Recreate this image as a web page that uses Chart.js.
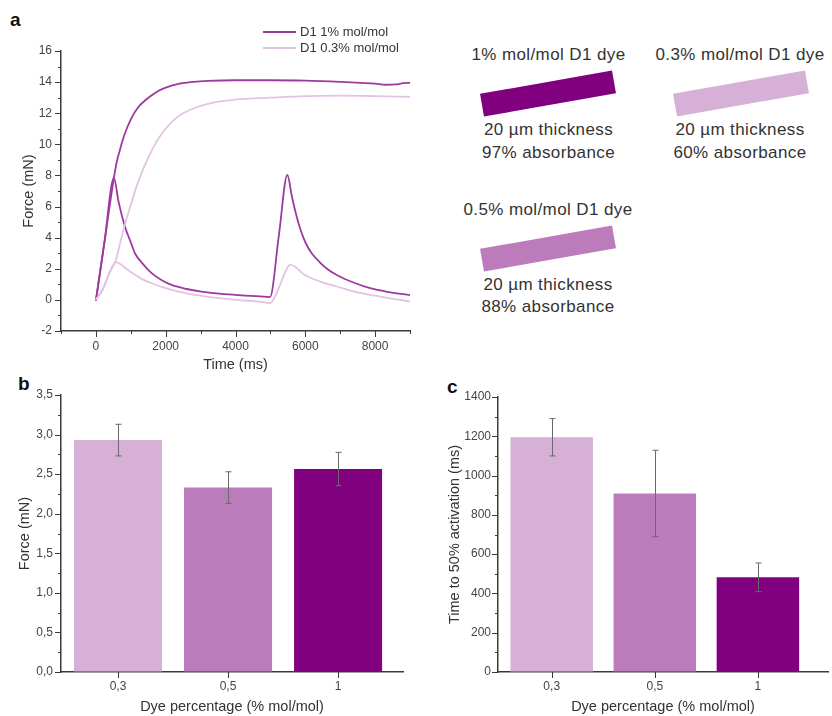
<!DOCTYPE html>
<html><head><meta charset="utf-8">
<script src="https://cdn.jsdelivr.net/npm/chart.js@4.4.1/dist/chart.umd.min.js"></script>
<style>
html,body{margin:0;padding:0;background:#fff;}
body{width:832px;height:716px;position:relative;overflow:hidden;font-family:"Liberation Sans",Arial,sans-serif;color:#333;}
canvas{position:absolute;}
.lbl{position:absolute;font-weight:bold;font-size:19px;line-height:1;color:#111;}
.ann{position:absolute;width:220px;text-align:center;font-size:17px;line-height:20px;color:#333;letter-spacing:0.4px;white-space:nowrap;}
.film{position:absolute;width:134px;height:23px;transform:rotate(-10deg);}
#legendA{position:absolute;left:263px;top:0;width:170px;height:60px;}
.li{position:absolute;left:0;white-space:nowrap;font-size:13px;line-height:16px;height:16px;width:170px;}
.li .sw{position:absolute;left:0;top:7px;width:33px;height:2px;}
.li .tx{position:absolute;left:37px;top:0;color:#333;}
</style></head><body>
<div class="lbl" style="left:10px;top:10px;">a</div>
<div class="lbl" style="left:18px;top:374px;">b</div>
<div class="lbl" style="left:447px;top:377px;">c</div>

<canvas id="chartA" width="430" height="380" style="left:0;top:0;"></canvas>
<div id="legendA"></div>
<canvas id="chartB" width="420" height="346" style="left:0;top:370px;"></canvas>
<canvas id="chartC" width="412" height="346" style="left:420px;top:370px;"></canvas>

<div id="films"></div>

<script>
// ---------- Panel a data (Force vs time) ----------
const legendLabels = ['D1 1% mol/mol', 'D1 0.3% mol/mol'];

const t_1pct_cont = [0, 250, 516, 600, 688, 800, 1000, 1200, 1400, 1600, 1800, 2000, 2400, 2800, 3200, 4000, 5000, 6000, 7000, 7600, 8000, 8300, 8600, 8800, 9000];
const f_1pct_cont = [-0.05, 3.8, 7.85, 8.9, 9.64, 10.5, 11.6, 12.35, 12.8, 13.15, 13.45, 13.65, 13.9, 14.02, 14.08, 14.12, 14.12, 14.1, 14.02, 13.95, 13.9, 13.83, 13.85, 13.93, 13.95];

const t_1pct_pulse = [0, 250, 516, 650, 832, 1000, 1118, 1350, 1597, 1900, 2170, 2600, 3030, 3600, 4270, 4700, 4989, 5240, 5486, 5620, 5754, 5850, 5945, 6070, 6200, 6423, 6650, 6900, 7400, 7857, 8400, 9000];
const f_1pct_pulse = [-0.05, 3.8, 7.85, 6.3, 4.71, 3.7, 3.0, 2.3, 1.72, 1.25, 0.96, 0.7, 0.53, 0.38, 0.28, 0.22, 0.18, 4.1, 8.03, 6.6, 5.35, 4.6, 4.0, 3.4, 2.95, 2.4, 1.95, 1.6, 1.1, 0.75, 0.5, 0.3];

const t_03pct_cont = [0, 200, 400, 565, 700, 850, 1000, 1150, 1300, 1450, 1600, 1800, 2000, 2250, 2500, 2900, 3400, 4000, 5000, 6000, 7000, 8000, 9000];
const f_03pct_cont = [0, 0.7, 1.8, 2.5, 3.7, 5.0, 6.1, 7.2, 8.1, 8.9, 9.6, 10.4, 11.0, 11.6, 12.0, 12.4, 12.7, 12.88, 13.0, 13.1, 13.13, 13.1, 13.05];

const t_03pct_pulse = [0, 200, 400, 565, 700, 900, 1118, 1350, 1597, 2000, 2552, 3000, 3508, 4272, 4700, 5000, 5150, 5300, 5450, 5562, 5700, 5945, 6423, 6900, 7378, 7857, 8400, 8813, 9000];
const f_03pct_pulse = [0, 0.7, 1.8, 2.45, 2.3, 1.95, 1.61, 1.3, 1.07, 0.75, 0.43, 0.27, 0.11, -0.04, -0.12, -0.2, 0.3, 1.1, 1.9, 2.25, 2.15, 1.67, 1.18, 0.86, 0.54, 0.32, 0.12, -0.04, -0.1];

// ---------- Panels b and c data ----------
const dyeCats = ['0,3', '0,5', '1'];
const forceVals = [2.93, 2.33, 2.565];
const forceErr = [0.2, 0.2, 0.21];
const t50Vals = [1195, 909, 482];
const t50Err = [95, 220, 73];

// ---------- Film annotations ----------
const filmTitles = ['1% mol/mol D1 dye', '0.3% mol/mol D1 dye', '0.5% mol/mol D1 dye'];
const filmThick = ['20 µm thickness', '20 µm thickness', '20 µm thickness'];
const filmAbs = ['97% absorbance', '60% absorbance', '88% absorbance'];

// ---------- styles ----------
const FONT = '"Liberation Sans", Arial, sans-serif';
const darkLine = '#9c3aa0';
const lightLine = '#e3c3e3';
const barColors = ['#d6b0d6', '#bc7cbc', '#800080'];
const filmColors = ['#800080', '#d6b0d6', '#bc7cbc'];
const filmPos = [{cx:548, cy:93.5, tx:548.5, ty:55, t1:130, t2:153},
                 {cx:741, cy:93.5, tx:740, ty:55, t1:130, t2:153},
                 {cx:548, cy:248, tx:548, ty:210, t1:285, t2:307}];

// films / annotations
(function(){
  const host = document.getElementById('films');
  filmTitles.forEach((t, i) => {
    const p = filmPos[i];
    const mk = (txt, y) => { const d = document.createElement('div'); d.className='ann'; d.textContent=txt; d.style.left=(p.tx-110)+'px'; d.style.top=(y-10)+'px'; host.appendChild(d); };
    mk(t, p.ty); mk(filmThick[i], p.t1); mk(filmAbs[i], p.t2);
    const r = document.createElement('div'); r.className='film'; r.style.background=filmColors[i];
    r.style.left=(p.cx-67)+'px'; r.style.top=(p.cy-11.5)+'px'; host.appendChild(r);
  });
})();

// ---------- plugins ----------
const tickMarks = {
  id: 'tickMarks',
  afterDraw(chart, args, opts) {
    const ctx = chart.ctx; ctx.save();
    ctx.strokeStyle = '#3a3a3a'; ctx.lineWidth = 1;
    ['x','y'].forEach(id => {
      const s = chart.scales[id];
      s.ticks.forEach((tk, i) => {
        const lab = tk.label;
        const major = lab !== '' && lab != null;
        const len = major ? opts.major : opts.minor;
        const p = s.getPixelForTick(i);
        ctx.beginPath();
        if (s.isHorizontal()) { const x = Math.round(p) + 0.5; ctx.moveTo(x, s.top); ctx.lineTo(x, s.top + len); }
        else { const y = Math.round(p) + 0.5; ctx.moveTo(s.right, y); ctx.lineTo(s.right - len, y); }
        ctx.stroke();
      });
    });
    ctx.restore();
  }
};
const errBars = {
  id: 'errBars',
  afterDatasetsDraw(chart, args, opts) {
    if (!opts || !opts.errors) return;
    const meta = chart.getDatasetMeta(0), ys = chart.scales.y, ctx = chart.ctx;
    ctx.save(); ctx.strokeStyle = opts.color; ctx.lineWidth = 1;
    meta.data.forEach((bar, i) => {
      const v = chart.data.datasets[0].data[i].y, e = opts.errors[i];
      const x = Math.round(bar.x) + 0.5;
      const y1 = ys.getPixelForValue(v + e), y2 = ys.getPixelForValue(v - e);
      ctx.beginPath();
      ctx.moveTo(x, y1); ctx.lineTo(x, y2);
      ctx.moveTo(x - 3, y1); ctx.lineTo(x + 3, y1);
      ctx.moveTo(x - 3, y2); ctx.lineTo(x + 3, y2);
      ctx.stroke();
    });
    ctx.restore();
  }
};

function pts(t, f) { return t.map((v, i) => ({x: v, y: f[i]})); }
const tickFont = {family: FONT, size: 12};
const titleFont = {family: FONT, size: 14.5};
const gridOpts = {drawOnChartArea:false, color:'transparent', tickLength:6};
const borderOpts = {display:true, color:'#3a3a3a', width:1.5};

// ---------- Chart a ----------
const chartA = new Chart(document.getElementById('chartA'), {
  type: 'line',
  data: { datasets: [
    {label: legendLabels[1], data: pts(t_03pct_cont, f_03pct_cont), borderColor: lightLine, borderWidth: 1.8},
    {label: legendLabels[1], data: pts(t_03pct_pulse, f_03pct_pulse), borderColor: lightLine, borderWidth: 1.8},
    {label: legendLabels[0], data: pts(t_1pct_cont, f_1pct_cont), borderColor: darkLine, borderWidth: 1.8},
    {label: legendLabels[0], data: pts(t_1pct_pulse, f_1pct_pulse), borderColor: darkLine, borderWidth: 1.8}
  ]},
  options: {
    responsive:false, animation:false, devicePixelRatio:1,
    layout:{padding:{top:51, right:20, left:0, bottom:0}},
    elements:{point:{radius:0}, line:{cubicInterpolationMode:'monotone'}},
    plugins:{legend:{display:false}, tooltip:{enabled:false}, tickMarks:{major:6, minor:3}},
    scales:{
      x:{type:'linear', min:-1000, max:9000, afterFit:s=>{s.height=49;},
         ticks:{stepSize:1000, autoSkip:false, maxRotation:0, padding:2, color:'#444', font:tickFont,
                callback:v=> (v>=0 && v%2000===0) ? String(v) : ''},
         grid:gridOpts, border:borderOpts,
         title:{display:true, text:'Time (ms)', color:'#333', font:titleFont, padding:{top:0, bottom:6}}},
      y:{type:'linear', min:-2, max:16, afterFit:s=>{s.width=61;},
         ticks:{stepSize:1, autoSkip:false, padding:3, color:'#444', font:tickFont,
                callback:v=> (v%2===0) ? String(v) : ''},
         grid:gridOpts, border:borderOpts,
         title:{display:true, text:'Force (mN)', color:'#333', font:titleFont, padding:{top:20, bottom:0}}}
    }
  },
  plugins:[tickMarks]
});

// HTML legend built from chart datasets
(function(){
  const host = document.getElementById('legendA');
  const rowsY = [32, 48];
  const seen = [];
  [...chartA.data.datasets].reverse().forEach(ds => {
    if (seen.includes(ds.label)) return;
    const row = document.createElement('div'); row.className = 'li';
    row.style.top = (rowsY[seen.length] - 8) + 'px';
    const sw = document.createElement('span'); sw.className='sw'; sw.style.background = ds.borderColor;
    const tx = document.createElement('span'); tx.className='tx'; tx.textContent = ds.label;
    row.appendChild(sw); row.appendChild(tx); host.appendChild(row);
    seen.push(ds.label);
  });
})();

// ---------- Bar charts ----------
function barChart(id, vals, errs, xmin, xmax, ymax, ystep, labelEvery, yTitle, pad, yWidth, yTitlePad, yTickPad, fmt) {
  return new Chart(document.getElementById(id), {
    type: 'bar',
    data: { datasets: [{ data: vals.map((v, i) => ({x: i + 1, y: v})), backgroundColor: barColors,
                         barPercentage: 1, categoryPercentage: 0.8 }]},
    options: {
      responsive:false, animation:false, devicePixelRatio:1,
      layout:{padding:pad},
      plugins:{legend:{display:false}, tooltip:{enabled:false}, tickMarks:{major:6, minor:3},
               errBars:{errors: errs, color:'#6a6a6a'}},
      scales:{
        x:{type:'linear', min:xmin, max:xmax, offset:false, afterFit:s=>{s.height=44;},
           afterBuildTicks:s=>{ s.ticks = dyeCats.map((c, i) => ({value: i + 1})); },
           ticks:{autoSkip:false, maxRotation:0, padding:1, color:'#444', font:tickFont,
                  callback:v=> dyeCats[Math.round(v) - 1]},
           grid:gridOpts, border:borderOpts,
           title:{display:true, text:'Dye percentage (% mol/mol)', color:'#333', font:titleFont, padding:{top:0, bottom:0}}},
        y:{type:'linear', min:0, max:ymax, afterFit:s=>{s.width=yWidth;},
           ticks:{stepSize:ystep, autoSkip:false, padding:yTickPad, color:'#444', font:tickFont,
                  callback:v=> { const k = v / labelEvery; return Math.abs(k - Math.round(k)) < 1e-6 ? fmt(v) : ''; }},
           grid:gridOpts, border:borderOpts,
           title:{display:true, text:yTitle, color:'#333', font:titleFont, padding:{top:yTitlePad, bottom:0}}}
      }
    },
    plugins:[tickMarks, errBars]
  });
}
barChart('chartB', forceVals, forceErr, 0.482, 3.59, 3.5, 0.25, 0.5, 'Force (mN)',
         {top:25, right:17, left:0, bottom:0}, 61, 16.6, 2, v => v.toFixed(1).replace('.', ','));
barChart('chartC', t50Vals, t50Err, 0.479, 3.68, 1400, 100, 200, 'Time to 50% activation (ms)',
         {top:27, right:4, left:0, bottom:0}, 78, 26.6, 1, v => String(Math.round(v)));
</script>
</body></html>
